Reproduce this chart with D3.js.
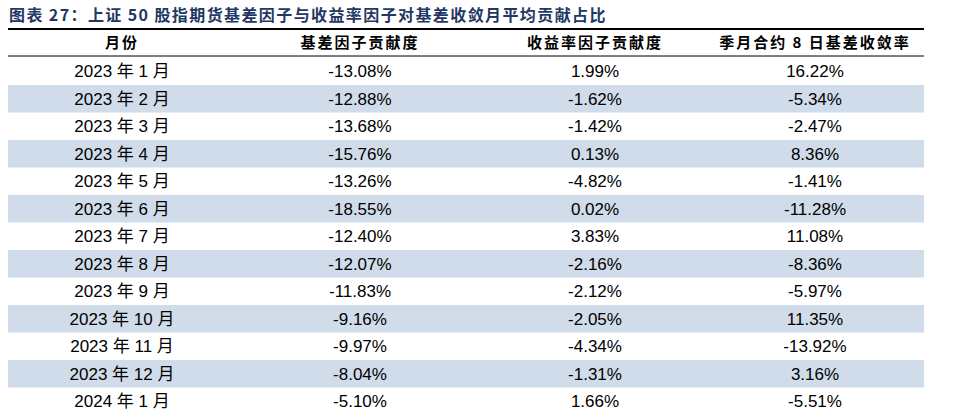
<!DOCTYPE html>
<html><head><meta charset="utf-8">
<script src="https://cdn.jsdelivr.net/npm/d3@7"></script>
<style>body{margin:0;background:#fff}</style>
</head><body>
<svg id="chart" width="957" height="415"></svg>
<script>
var title = "图表 27：上证 50 股指期货基差因子与收益率因子对基差收敛月平均贡献占比";
var headers = ["月份", "基差因子贡献度", "收益率因子贡献度", "季月合约 8 日基差收敛率"];
var months = ["2023 年 1 月","2023 年 2 月","2023 年 3 月","2023 年 4 月","2023 年 5 月","2023 年 6 月","2023 年 7 月","2023 年 8 月","2023 年 9 月","2023 年 10 月","2023 年 11 月","2023 年 12 月","2024 年 1 月"];
var basisFactor = [-13.08,-12.88,-13.68,-15.76,-13.26,-18.55,-12.40,-12.07,-11.83,-9.16,-9.97,-8.04,-5.10];
var yieldFactor = [1.99,-1.62,-1.42,0.13,-4.82,0.02,3.83,-2.16,-2.12,-2.05,-4.34,-1.31,1.66];
var convergence = [16.22,-5.34,-2.47,8.36,-1.41,-11.28,11.08,-8.36,-5.97,11.35,-13.92,3.16,-5.51];

var svg = d3.select("#chart");
var font = "'Liberation Sans', Arial, 'Noto Sans CJK SC', sans-serif";
var colEdges = [8, 236, 484, 706, 924];
var x = d3.scaleOrdinal().domain([0,1,2,3]).range([0,1,2,3].map(function(i){return (colEdges[i]+colEdges[i+1])/2;}));
var rowH = 27.5, top0 = 57.5;
var y = d3.scaleBand().domain(d3.range(months.length)).range([top0, top0 + rowH*months.length]);

svg.append("text").attr("x", 9).attr("y", 21).text(title)
  .attr("font-family", "'Noto Sans CJK SC', sans-serif").attr("font-weight", "bold")
  .attr("font-size", 16).attr("letter-spacing", 1.4).attr("fill", "#1f3864");

svg.append("line").attr("x1", 8).attr("x2", 924).attr("y1", 29).attr("y2", 29).attr("stroke", "#000").attr("stroke-width", 2);
svg.append("line").attr("x1", 8).attr("x2", 924).attr("y1", 56).attr("y2", 56).attr("stroke", "#000").attr("stroke-width", 1);

svg.selectAll(".hd").data(headers).enter().append("text")
  .attr("x", function(d,i){return x(i);}).attr("y", 48).attr("text-anchor", "middle")
  .attr("font-family", "'Noto Sans CJK SC', sans-serif").attr("font-weight", "bold")
  .attr("font-size", 15).attr("letter-spacing", 2).attr("fill", "#000").text(function(d){return d;});

var rows = months.map(function(m,i){
  return [m, basisFactor[i].toFixed(2)+"%", yieldFactor[i].toFixed(2)+"%", convergence[i].toFixed(2)+"%"];
});

svg.selectAll(".band").data(d3.range(months.length).filter(function(i){return i%2==1;})).enter().append("rect")
  .attr("x", 8).attr("width", 916).attr("y", function(i){return y(i);}).attr("height", y.bandwidth())
  .attr("fill", "#d0dcea");

var g = svg.selectAll(".row").data(rows).enter().append("g");
g.selectAll("text").data(function(d,i){return d.map(function(v){return {v:v,r:i};});}).enter().append("text")
  .attr("x", function(d,i){return x(i);}).attr("y", function(d){return y(d.r) + y.bandwidth()/2 + 6;})
  .attr("text-anchor", "middle").attr("font-family", font).attr("font-size", 17).attr("fill", "#000")
  .text(function(d){return d.v;});
</script>
</body></html>
